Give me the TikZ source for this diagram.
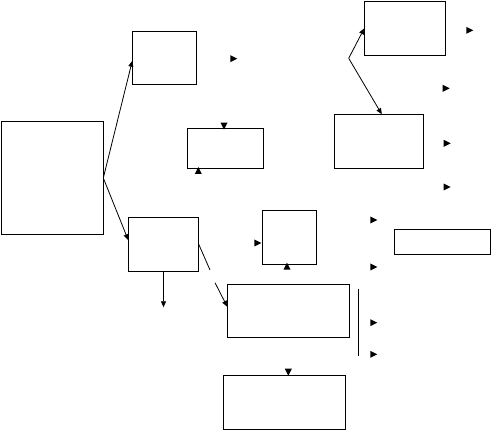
\documentclass[tikz,border=0pt]{standalone}
\usetikzlibrary{arrows.meta}
\begin{document}
\begin{tikzpicture}[x=1pt,y=-1pt,
  box/.style={draw,line width=0.9pt,inner sep=0pt,outer sep=0pt},
  conn/.style={line width=0.8pt,-{Triangle[length=6pt,width=5pt]}},
  plain/.style={line width=0.8pt},
  tipr/.pic={\fill (-3,-3.5) -- (4,0) -- (-3,3.5) -- cycle;},
  tipd/.pic={\fill (-3.5,-3) -- (0,4) -- (3.5,-3) -- cycle;},
  tipu/.pic={\fill (-3.5,3) -- (0,-4) -- (3.5,3) -- cycle;}]
\useasboundingbox (0,0) rectangle (491,430);
% boxes
\node[box,minimum width=102pt,minimum height=112.6pt] (A) at (52.3,178) {};
\node[box,minimum width=64pt,minimum height=53pt] (B) at (164.3,57.8) {};
\node[box,minimum width=76pt,minimum height=40pt] (C) at (225.3,148.3) {};
\node[box,minimum width=81pt,minimum height=54pt] (D) at (404.8,28.3) {};
\node[box,minimum width=89pt,minimum height=54pt] (E) at (378.8,141.3) {};
\node[box,minimum width=70.4pt,minimum height=53.7pt] (F) at (163.5,244.2) {};
\node[box,minimum width=54pt,minimum height=54pt] (G) at (289.3,237.3) {};
\node[box,minimum width=96pt,minimum height=25pt] (H) at (442.3,241.8) {};
\node[box,minimum width=122pt,minimum height=53pt] (I) at (288.3,310.8) {};
\node[box,minimum width=122.4pt,minimum height=54pt] (J) at (284.5,402.3) {};
% helper coordinates
\coordinate (k) at (348.7,58.3);
\coordinate (b1) at (210,270);
\coordinate (b2) at (215,282.7);
\coordinate (fd) at (163.5,307.3);
\coordinate (v1) at (358.3,289.3);
\coordinate (v2) at (358.3,355.7);
% connectors
\draw[conn] (A.east) -- ([yshift=-3pt]B.west);
\draw[conn] (A.east) -- ([yshift=4pt]F.west);
\draw[conn] (k) -- (D.west);
\draw[conn] (k) -- ([xshift=3pt]E.north);
\draw[plain] (F.east) -- (b1);
\draw[conn] (b2) -- ([yshift=4pt]I.west);
\draw[conn] (F.south) -- (fd);
\draw[plain] (v1) -- (v2);
% floating arrowheads
\pic at (233.3,58.7) {tipr};
\pic at (224,125.7) {tipd};
\pic at (198.3,171) {tipu};
\pic at (469.3,30.3) {tipr};
\pic at (445.7,88.3) {tipr};
\pic at (446.7,143.3) {tipr};
\pic at (446.7,187) {tipr};
\pic at (373.3,220) {tipr};
\pic at (257.3,243) {tipr};
\pic at (287,266.7) {tipu};
\pic at (373.3,267) {tipr};
\pic at (373.3,322.7) {tipr};
\pic at (373.3,354.3) {tipr};
\pic at (288.3,371.7) {tipd};
\end{tikzpicture}
\end{document}
